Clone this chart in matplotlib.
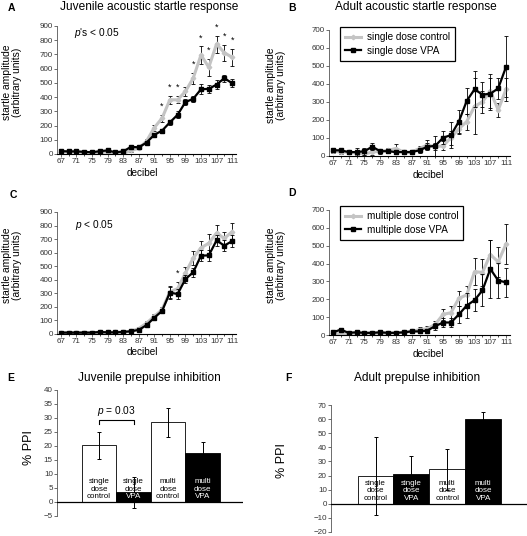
"""Startle response and prepulse inhibition panels (A-F)."""

import matplotlib

matplotlib.use("Agg")
import matplotlib.pyplot as plt
from matplotlib.lines import Line2D

plt.rcParams["font.family"] = ["Liberation Sans", "DejaVu Sans"]
plt.rcParams["mathtext.fontset"] = "custom"
plt.rcParams["mathtext.rm"] = "Liberation Sans"
plt.rcParams["mathtext.it"] = "Liberation Sans:italic"

W, H = 527, 536
GRAY = "#c4c4c4"
TICK_COLOR = "#333333"

# decibel categories
db = [67, 69, 71, 73, 75, 77, 79, 81, 83, 85, 87, 89,
      91, 93, 95, 97, 99, 101, 103, 105, 107, 109, 111]
db_labels = [67, 71, 75, 79, 83, 87, 91, 95, 99, 103, 107, 111]

# A: juvenile, single dose
juv_single_ctrl = [15, 15, 15, 10, 5, 10, 15, 5, 5, 25, 40, 90,
                   185, 252, 381, 381, 440, 533, 696, 610, 773, 712, 680]
juv_single_ctrl_err = [5, 5, 5, 5, 5, 5, 5, 5, 5, 8, 8, 15,
                       20, 25, 30, 25, 30, 40, 60, 60, 60, 55, 60]
juv_single_vpa = [20, 18, 18, 15, 12, 20, 25, 12, 18, 50, 47, 80,
                  135, 164, 222, 276, 365, 388, 455, 458, 488, 533, 498]
juv_single_vpa_err = [5, 5, 5, 5, 5, 5, 5, 5, 5, 8, 8, 12,
                      15, 15, 20, 25, 20, 20, 35, 30, 30, 25, 30]
juv_single_sig = [93, 95, 97, 101, 103, 105, 107, 109, 111]

# B: adult, single dose
adult_single_ctrl = [25, 20, 20, 15, 10, 20, 25, 30, 40, 20, 20, 40,
                     60, 50, 55, 100, 150, 190, 275, 300, 360, 255, 370]
adult_single_ctrl_err = [10, 10, 10, 10, 10, 15, 10, 15, 25, 10, 10, 15,
                         25, 20, 25, 40, 30, 45, 155, 60, 95, 40, 65]
adult_single_vpa = [30, 30, 20, 20, 25, 50, 25, 25, 20, 20, 20, 30,
                    50, 55, 100, 115, 190, 305, 370, 340, 345, 375, 495]
adult_single_vpa_err = [10, 10, 10, 25, 20, 20, 15, 10, 10, 10, 10, 15,
                        20, 55, 35, 70, 65, 70, 100, 70, 90, 60, 170]

# C: juvenile, multiple dose
juv_multi_ctrl = [10, 10, 10, 10, 10, 12, 12, 12, 15, 20, 40, 80,
                  130, 180, 310, 335, 450, 560, 635, 670, 745, 705, 755]
juv_multi_ctrl_err = [5, 5, 5, 5, 5, 5, 5, 5, 5, 5, 10, 15,
                      15, 20, 45, 50, 45, 50, 50, 70, 60, 50, 65]
juv_multi_vpa = [10, 10, 10, 10, 10, 15, 12, 12, 15, 20, 30, 65,
                 120, 170, 305, 295, 405, 455, 578, 580, 690, 652, 685]
juv_multi_vpa_err = [5, 5, 5, 5, 5, 5, 5, 5, 5, 5, 8, 10,
                     10, 15, 45, 35, 30, 35, 40, 40, 40, 40, 45]
juv_multi_sig = [97]

# D: adult, multiple dose
adult_multi_ctrl = [10, 5, 10, 10, 10, 10, 10, 10, 12, 15, 20, 30,
                    35, 60, 115, 125, 205, 225, 355, 350, 450, 410, 510]
adult_multi_ctrl_err = [5, 5, 5, 5, 5, 5, 5, 5, 5, 5, 10, 15,
                        15, 20, 30, 40, 40, 50, 75, 75, 80, 85, 110]
adult_multi_vpa = [15, 30, 12, 15, 12, 12, 15, 12, 12, 15, 20, 20,
                   25, 50, 70, 70, 115, 165, 195, 250, 370, 305, 295]
adult_multi_vpa_err = [5, 8, 5, 5, 5, 5, 5, 5, 5, 5, 8, 8,
                       10, 20, 25, 25, 50, 70, 60, 90, 160, 100, 80]

# E/F: prepulse inhibition
ppi_groups = ["single\ndose\ncontrol", "single\ndose\nVPA",
              "multi\ndose\ncontrol", "multi\ndose\nVPA"]
ppi_fill = ["white", "black", "white", "black"]
juv_ppi = [20.2, 3.4, 28.4, 17.5]
juv_ppi_err = [4.8, 5.5, 5.3, 3.8]
adult_ppi = [19.5, 21.3, 24.4, 60.0]
adult_ppi_err = [27.8, 12.4, 14.3, 4.8]

fig = plt.figure(figsize=(W / 100, H / 100), dpi=100)


def add_axes_px(left, top, right, bottom):
    return fig.add_axes([left / W, 1 - bottom / H, (right - left) / W, (bottom - top) / H])


def style_axis(ax):
    for side in ("top", "right"):
        ax.spines[side].set_visible(False)
    ax.spines["left"].set_color("#555555")
    ax.spines["left"].set_linewidth(0.6)
    ax.tick_params(axis="both", labelsize=5.8, colors=TICK_COLOR, length=2, width=0.5, pad=1)


def plot_startle(ax, ctrl, ctrl_err, vpa, vpa_err, ymax, sig=(), ylab_x=-0.196, xlab_x=0.475):
    ax.errorbar(db, ctrl, yerr=ctrl_err, color=GRAY, lw=2.2, marker="D", ms=2.3,
                mfc=GRAY, mec=GRAY, ecolor="black", elinewidth=0.6, capsize=1.4, capthick=0.6, zorder=2)
    ax.errorbar(db, vpa, yerr=vpa_err, color="black", lw=1.6, marker="s", ms=3,
                ecolor="black", elinewidth=0.6, capsize=1.4, capthick=0.6, zorder=3)
    for x in sig:
        i = db.index(x)
        ax.annotate("*", (x, ctrl[i] + ctrl_err[i]), xytext=(0, 3), textcoords="offset points",
                    ha="center", va="bottom", fontsize=6.5)
    ax.set_xlim(66, 112)
    ax.set_ylim(0, ymax)
    ax.set_xticks(db_labels)
    ax.set_xticks(db, minor=True)
    ax.set_yticks(range(0, ymax + 1, 100))
    style_axis(ax)
    ax.spines["bottom"].set_linewidth(0.8)
    ax.tick_params(axis="x", which="minor", length=1.5, width=0.5)
    ax.set_xlabel("decibel", fontsize=7.2)
    ax.set_ylabel("startle amplitude\n(arbitrary units)", fontsize=7.4, linespacing=1.0)
    ax.yaxis.set_label_coords(ylab_x, 0.56)
    ax.xaxis.set_label_coords(xlab_x, -0.11)


def add_legend(ax, labels, y_top):
    handles = [
        Line2D([], [], color=GRAY, lw=2.2, marker="D", ms=2.3, mfc=GRAY, mec=GRAY),
        Line2D([], [], color="black", lw=1.6, marker="s", ms=3),
    ]
    leg = ax.legend(handles, labels, loc="upper left", bbox_to_anchor=(0.06, y_top),
                    borderaxespad=0, fontsize=7.2, handlelength=1.6, handletextpad=0.6,
                    fancybox=False, framealpha=1, edgecolor="black", borderpad=0.5,
                    labelspacing=0.35)
    leg.get_frame().set_linewidth(0.9)


def plot_ppi(ax, vals, errs, ymin, ymax, step):
    bars = ax.bar(range(4), vals, width=1.0, color=ppi_fill, edgecolor="black", linewidth=0.6, zorder=2)
    ax.errorbar(range(4), vals, yerr=errs, fmt="none", ecolor="black", elinewidth=0.7,
                capsize=1.6, capthick=0.7, zorder=4)
    for i, (bar, label) in enumerate(zip(bars, ppi_groups)):
        ax.annotate(label, (i, 0), xytext=(0, 1.5), textcoords="offset points", ha="center",
                    va="bottom", fontsize=5.8, color="black", linespacing=1.05, zorder=5)
        if ppi_fill[i] == "black":
            t = ax.annotate(label, (i, 0), xytext=(0, 1.5), textcoords="offset points", ha="center",
                            va="bottom", fontsize=5.8, color="white", linespacing=1.05, zorder=6)
            t.set_clip_path(bar)
    ax.axhline(0, color="black", lw=0.9, zorder=3)
    ax.set_ylim(ymin, ymax)
    ax.set_yticks(range(ymin, ymax + 1, step))
    ax.set_xticks([])
    style_axis(ax)
    ax.spines["bottom"].set_visible(False)
    ax.set_ylabel("% PPI", fontsize=9)


# A
axA = add_axes_px(57, 26, 236, 154)
plot_startle(axA, juv_single_ctrl, juv_single_ctrl_err, juv_single_vpa, juv_single_vpa_err, 900,
             sig=juv_single_sig)
axA.text(0.095, 0.945, r"$\it{p}$'s < 0.05", transform=axA.transAxes, fontsize=7.3, va="center")

# B
axB = add_axes_px(329, 30, 510, 155.7)
plot_startle(axB, adult_single_ctrl, adult_single_ctrl_err, adult_single_vpa, adult_single_vpa_err, 700,
             ylab_x=-0.238, xlab_x=0.547)
add_legend(axB, ["single dose control", "single dose VPA"], 1.02)

# C
axC = add_axes_px(57, 212, 236, 334)
plot_startle(axC, juv_multi_ctrl, juv_multi_ctrl_err, juv_multi_vpa, juv_multi_vpa_err, 900,
             sig=juv_multi_sig)
axC.text(0.10, 0.893, r"$\it{p}$ < 0.05", transform=axC.transAxes, fontsize=7.3, va="center")

# D
axD = add_axes_px(329, 210, 510, 335)
plot_startle(axD, adult_multi_ctrl, adult_multi_ctrl_err, adult_multi_vpa, adult_multi_vpa_err, 700,
             ylab_x=-0.238, xlab_x=0.547)
add_legend(axD, ["multiple dose control", "multiple dose VPA"], 1.03)

# E
axE = add_axes_px(57, 390, 243, 516)
plot_ppi(axE, juv_ppi, juv_ppi_err, -5, 40, 5)
axE.set_xlim(-1.22, 4.17)
axE.yaxis.set_label_coords(-0.118, 0.54)
bracket_y = max(juv_ppi[0] + juv_ppi_err[0], juv_ppi[1] + juv_ppi_err[1]) + 4.3
axE.plot([0, 0, 1, 1], [bracket_y - 1.4, bracket_y, bracket_y, bracket_y - 1.4], color="black", lw=0.8)
axE.text(0.5, bracket_y + 0.8, r"$\it{p}$ = 0.03", ha="center", va="bottom", fontsize=7.3)

# F
axF = add_axes_px(331, 405, 527, 532)
plot_ppi(axF, adult_ppi, adult_ppi_err, -20, 70, 10)
axF.set_xlim(-1.24, 4.22)
axF.yaxis.set_label_coords(-0.219, 0.56)

# titles and panel letters
title_kw = dict(ha="center", va="center", fontsize=8.6)
fig.text(149 / W, 1 - 7 / H, "Juvenile acoustic startle response", **title_kw)
fig.text(416 / W, 1 - 7 / H, "Adult acoustic startle response", **title_kw)
fig.text(149 / W, 1 - 378 / H, "Juvenile prepulse inhibition", **title_kw)
fig.text(417 / W, 1 - 378 / H, "Adult prepulse inhibition", **title_kw)

letter_kw = dict(ha="center", va="center", fontsize=7.5, fontweight="bold")
for letter, x, y in [("A", 11.5, 8), ("B", 292, 8), ("C", 13, 195),
                     ("D", 292, 193), ("E", 11, 378), ("F", 288, 378)]:
    fig.text(x / W, 1 - y / H, letter, **letter_kw)

fig.savefig("out.png", dpi=100)
